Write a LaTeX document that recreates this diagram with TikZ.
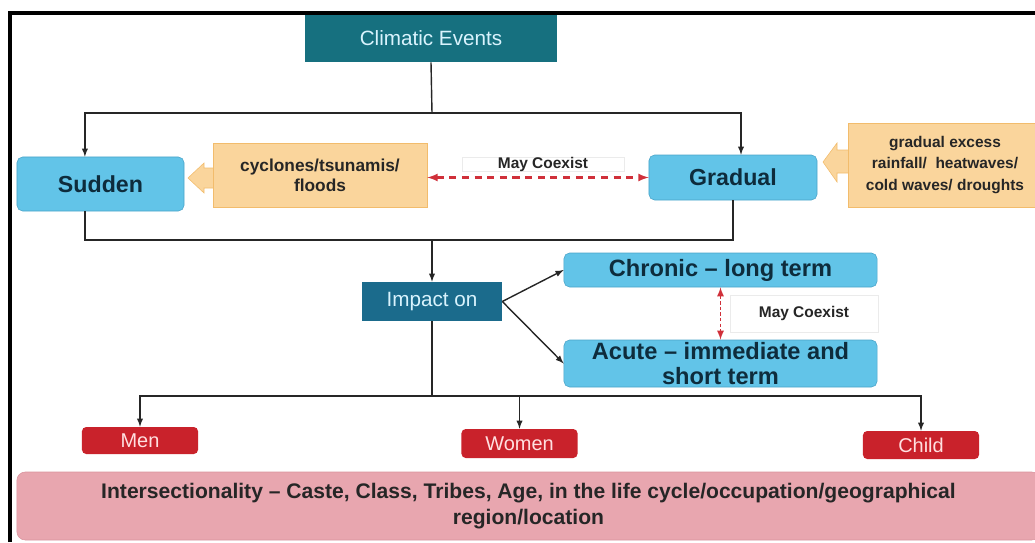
\documentclass[tikz,border=0pt]{standalone}
\usepackage{fontspec}
\setmainfont{Liberation Sans}
\definecolor{tealbox}{HTML}{16707F}
\definecolor{bluebox}{HTML}{1B6B8C}
\definecolor{skyfill}{HTML}{62C4E8}
\definecolor{skyline}{HTML}{4AA3C8}
\definecolor{navytext}{HTML}{0E2C3C}
\definecolor{peachfill}{HTML}{FAD59C}
\definecolor{peachline}{HTML}{F2BC6C}
\definecolor{redbox}{HTML}{C9222B}
\definecolor{pinkfill}{HTML}{E8A6AF}
\definecolor{pinkline}{HTML}{D9939D}
\definecolor{dashred}{HTML}{D0303A}

\begin{document}
\begin{tikzpicture}[x=0.025cm,y=-0.025cm,
  header/.style={rectangle,fill=#1,text=white!85!cyan,inner sep=0pt,
    font=\fontsize{14.7}{17}\selectfont},
  kind/.style={rectangle,rounded corners=4pt,fill=skyfill,draw=skyline,text=navytext,
    inner sep=0pt,align=center,font=\bfseries\fontsize{16.8}{17.7}\selectfont},
  source/.style={rectangle,fill=peachfill,draw=peachline,text=black!85,inner sep=0pt,
    align=center},
  pointer/.style={fill=peachfill,draw=peachline},
  group/.style={rectangle,rounded corners=3pt,fill=redbox,text=white!88!red,inner sep=0pt,
    minimum width=2.9cm,font=\fontsize{14.2}{16}\selectfont},
  note/.style={rectangle,fill=white,draw=black!8,text=black!85,inner sep=0pt,
    font=\bfseries\fontsize{11}{12}\selectfont},
  wire/.style={draw=black!85,line width=1pt},
  link/.style={wire,-latex},
  coexist/.style={draw=dashred,line width=1.5pt,dash pattern=on 5pt off 4pt,latex-latex}]
\useasboundingbox (0,0) rectangle (1035,542);
\draw[line width=2.2pt] (10,542) -- (10,13) -- (1035,13);

\node[header=tealbox,minimum width=6.3cm,minimum height=1.175cm] (climatic) at (431,38.5) {Climatic Events};
\node[kind,font=\bfseries\fontsize{16.5}{17.7}\selectfont,minimum width=4.175cm,minimum height=1.35cm] (sudden) at (100.5,184) {Sudden};
\node[kind,font=\bfseries\fontsize{16.5}{17.7}\selectfont,minimum width=4.2cm,minimum height=1.125cm] (gradual) at (733,177.5) {Gradual};

\filldraw[pointer] (214,168) -- (204,168) -- (204,163) -- (188,178) -- (204,193) -- (204,188) -- (214,188);
\node[source,minimum width=5.35cm,minimum height=1.6cm,font=\bfseries\fontsize{12.3}{14}\selectfont] (cyclones) at (320,175) {cyclones/tsunamis/\\floods};
\filldraw[pointer] (849,150) -- (837,150) -- (837,143) -- (823,162) -- (837,182) -- (837,173) -- (849,173);
\node[source,minimum width=4.85cm,minimum height=2.1cm,font=\bfseries\fontsize{11}{15}\selectfont] (excess) at (945,165) {gradual excess\\rainfall/\ \ heatwaves/\\cold waves/ droughts};

\node[note,minimum width=4.05cm,minimum height=0.33cm] (coexist1) at (543,164) {May Coexist};
\draw[coexist] (cyclones.east |- gradual.west) -- (gradual.west);

\node[header=bluebox,minimum width=3.5cm,minimum height=0.975cm] (impact) at (432,301.5) {Impact on};
\node[kind,minimum width=7.825cm,minimum height=0.85cm] (chronic) at (720.5,270) {Chronic -- long term};
\node[kind,minimum width=7.825cm,minimum height=1.175cm] (acute) at (720.5,363.5) {Acute -- immediate and\\short term};
\node[note,minimum width=3.7cm,minimum height=0.925cm] (coexist2) at (804,313.5) {May Coexist};
\draw[coexist,dash pattern=on 2.5pt off 1.5pt,line width=1.2pt] (chronic.south) -- (acute.north);

\node[group,minimum height=0.675cm] (men) at (140,440.5) {Men};
\node[group,minimum height=0.725cm] (women) at (519.5,443.5) {Women};
\node[group,minimum height=0.7cm] (child) at (921,445) {Child};

\node[rectangle,rounded corners=6pt,fill=pinkfill,draw=pinkline,text=black!85,inner sep=0pt,
  minimum width=25.575cm,minimum height=1.7cm,align=center,
  font=\bfseries\fontsize{15}{18.4}\selectfont] (inter) at (528.5,506)
  {Intersectionality -- Caste, Class, Tribes, Age, in the life cycle/occupation/geographical\\region/location};

\draw[wire] (climatic.south) -- (432,113) coordinate (fork);
\draw[link] (fork) -| ([xshift=-0.39cm]sudden.north);
\draw[link] (fork) -| ([xshift=0.2cm]gradual.north);
\draw[wire] ([xshift=-0.39cm]sudden.south) |- (432,240) coordinate (join) -| (gradual.south);
\draw[link] (join) -- (impact);
\draw[link] (impact.east) -- (chronic.west);
\draw[link] (impact.east) -- (acute.west);
\draw[wire] (impact.south) -- (432,396) coordinate (spread);
\draw[link] (spread) -| (men);
\draw[link] (spread) -| (women);
\draw[link] (spread) -| (child);
\end{tikzpicture}
\end{document}
